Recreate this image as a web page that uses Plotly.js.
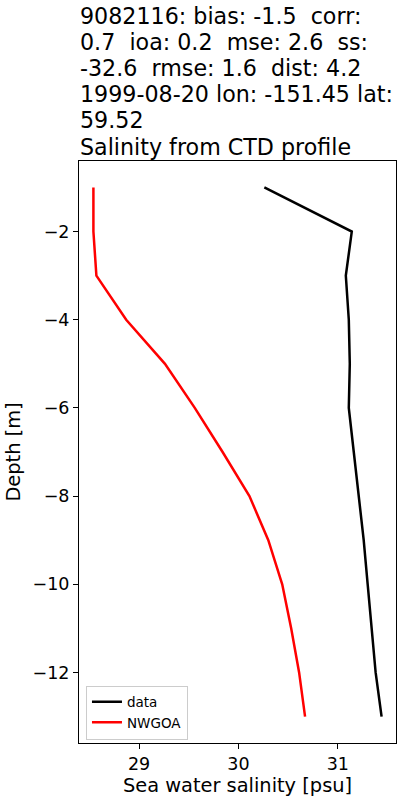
<!DOCTYPE html>
<html>
<head>
<meta charset="utf-8">
<script src="https://cdn.plot.ly/plotly-3.0.1.min.js"></script>
<style>html,body{margin:0;padding:0;background:#fff;}#chart{width:400px;height:800px;}</style>
</head>
<body>
<div id="chart"></div>
<script>
const depth = [-1, -2, -3, -4, -5, -6, -7, -8, -9, -10, -11, -12, -13];
const dataSalinity = [30.26, 31.14, 31.08, 31.11, 31.12, 31.11, 31.16, 31.21, 31.26, 31.30, 31.34, 31.38, 31.44];
const modelSalinity = [28.54, 28.54, 28.57, 28.87, 29.26, 29.56, 29.84, 30.11, 30.30, 30.44, 30.53, 30.61, 30.67];
const seriesNames = ["data", "NWGOA"];
const xTicks = [29, 30, 31];
const yTicks = [-2, -4, -6, -8, -10, -12];
const titleLines = [
  "9082116: bias: -1.5  corr:",
  "0.7  ioa: 0.2  mse: 2.6  ss:",
  "-32.6  rmse: 1.6  dist: 4.2",
  "1999-08-20 lon: -151.45 lat:",
  "59.52",
  "Salinity from CTD profile"
];

const font = "DejaVu Sans, sans-serif";
const traces = [
  {x: dataSalinity, y: depth, name: seriesNames[0], mode: "lines", line: {color: "#000000", width: 2.5}},
  {x: modelSalinity, y: depth, name: seriesNames[1], mode: "lines", line: {color: "#ff0000", width: 2.5}}
];
const n = titleLines.length;
const annotations = titleLines.map((t, i) => ({
  text: t.replace(/  /g, " \u00a0"),
  xref: "paper", yref: "paper", x: 0, y: 1,
  xanchor: "left", yanchor: "bottom", showarrow: false,
  align: "left", borderpad: 0,
  font: {family: font, size: 22.2, color: "#000"},
  yshift: 0.5 + 26.2 * (n - 1 - i)
}));
const layout = {
  width: 400, height: 800,
  margin: {l: 79, r: 4, t: 161, b: 57},
  paper_bgcolor: "#fff", plot_bgcolor: "#fff",
  font: {family: font, color: "#000", size: 17.5},
  annotations: annotations,
  xaxis: {
    range: [28.395, 31.585], tickvals: xTicks, ticktext: xTicks.map(String),
    ticks: "outside", ticklen: 5, tickwidth: 1, tickcolor: "#000",
    showline: true, linecolor: "#000", linewidth: 1, mirror: true,
    showgrid: false, zeroline: false,
    tickfont: {size: 17.5},
    title: {text: "Sea water salinity [psu]", font: {size: 19.4}, standoff: 4}
  },
  yaxis: {
    range: [-13.6, -0.4], tickvals: yTicks,
    ticks: "outside", ticklen: 5, tickwidth: 1, tickcolor: "#000",
    showline: true, linecolor: "#000", linewidth: 1, mirror: true,
    showgrid: false, zeroline: false,
    tickfont: {size: 17.5},
    title: {text: "Depth [m]", font: {size: 19.4}, standoff: 6}
  },
  showlegend: true,
  legend: {
    x: 0.022, y: 0.006, xanchor: "left", yanchor: "bottom",
    bgcolor: "rgba(255,255,255,0.8)", bordercolor: "#cccccc", borderwidth: 1,
    font: {size: 13.5}, tracegroupgap: 0
  }
};
Plotly.newPlot("chart", traces, layout, {displayModeBar: false, staticPlot: true});
</script>
</body>
</html>
